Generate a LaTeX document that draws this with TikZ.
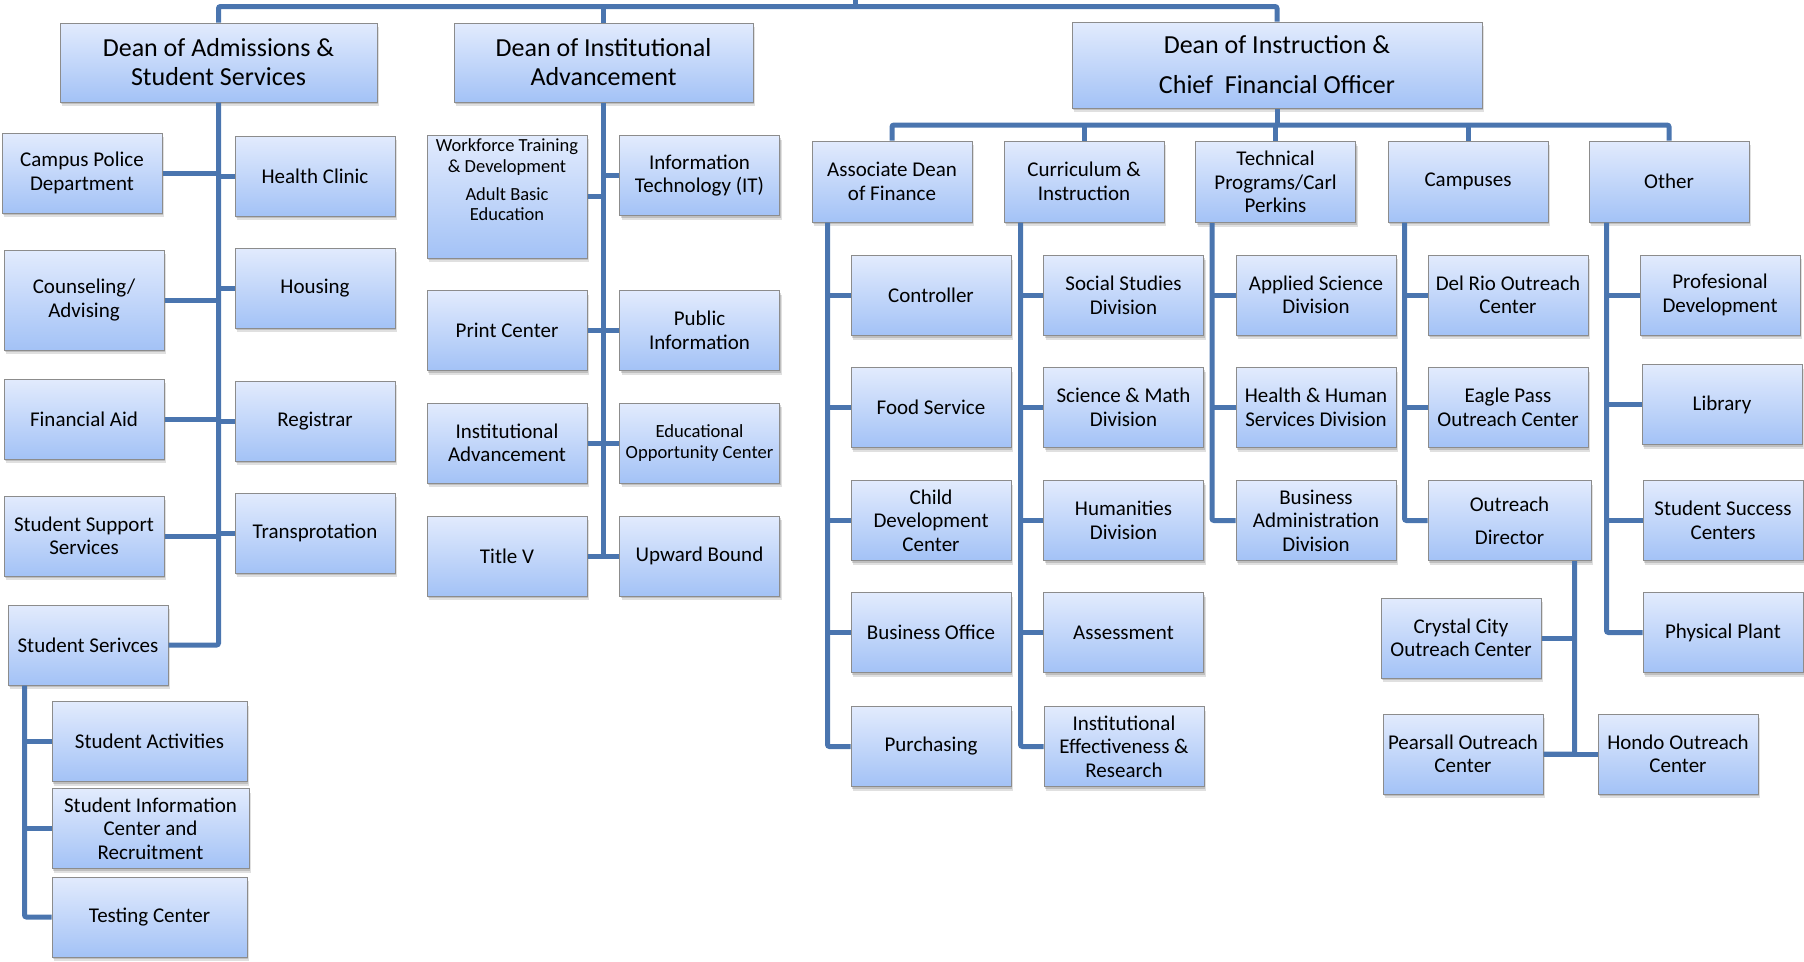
\documentclass[tikz,border=0pt]{standalone}
\usepackage{fontspec}
\setmainfont{Carlito}
\usetikzlibrary{shadows}
\definecolor{lineblue}{RGB}{74,117,175}
\definecolor{boxtop}{RGB}{226,235,253}
\definecolor{boxbot}{RGB}{163,194,246}
\definecolor{boxedge}{RGB}{140,140,140}
\begin{document}
\begin{tikzpicture}[x=1pt,y=-1pt,
  box/.style={draw=boxedge, line width=1pt, top color=boxtop, bottom color=boxbot,
    minimum width=160pt, minimum height=80pt, inner sep=0pt, align=center,
    font=\fontsize{21}{23.5}\selectfont,
    drop shadow={shadow xshift=2pt, shadow yshift=-4pt, opacity=0.12, fill=black},
    drop shadow={shadow xshift=1pt, shadow yshift=-2pt, opacity=0.15, fill=black}},
  head/.style={box, font=\fontsize{26}{29}\selectfont},
  conn/.style={draw=lineblue, line width=5pt, rounded corners=2pt}]
\useasboundingbox (0,0) rectangle (1804,961);

% ---- top level heads
\node[head, minimum width=317pt, minimum height=79pt] (adm) at (218.5,62.5) {Dean of Admissions \&\\Student Services};
\node[head, minimum width=299pt, minimum height=79pt] (iad) at (603.5,62.5) {Dean of Institutional\\Advancement};
\node[head, minimum width=410pt, minimum height=86pt, font=\fontsize{26}{40}\selectfont] (ins) at (1277,65) {Dean of Instruction \&\\Chief\ \ Financial Officer};

% ---- admissions children
\node[box] (cp) at (82,173) {Campus Police\\Department};
\node[box] (hc) at (315,176) {Health Clinic};
\node[box, minimum height=100pt] (cou) at (84,300) {Counseling/\\Advising};
\node[box] (hou) at (315,288) {Housing};
\node[box] (fa) at (84,419) {Financial Aid};
\node[box] (reg) at (315,421) {Registrar};
\node[box] (ssup) at (84,536) {Student Support\\Services};
\node[box] (tra) at (315,533) {Transprotation};
\node[box] (ss) at (88,645) {Student Serivces};
\node[box, minimum width=195pt] (sa) at (149.5,741.5) {Student Activities};
\node[box, minimum width=197pt] (sic) at (150.5,828.5) {Student Information\\Center and\\Recruitment};
\node[box, minimum width=195pt] (tc) at (149.5,917) {Testing Center};

% ---- institutional advancement children
\node[box, minimum height=123pt] (wf) at (507,196.5) {\begin{minipage}[c][115pt][t]{158pt}\centering\fontsize{18.5}{20.7}\selectfont
 \vspace{0pt}Workforce Training\\\& Development\\[7pt]Adult Basic\\Education\end{minipage}};
\node[box] (it) at (699.5,175.5) {Information\\Technology (IT)};
\node[box] (pc) at (507,330.5) {Print Center};
\node[box] (pi) at (699.5,330.5) {Public\\Information};
\node[box] (ia) at (507,443) {Institutional\\Advancement};
\node[box, font=\fontsize{18.6}{21}\selectfont] (eo) at (699.5,443) {Educational\\Opportunity Center};
\node[box] (tv) at (507,556) {Title V};
\node[box] (ub) at (699.5,556) {Upward Bound};

% ---- instruction level 2
\node[box, minimum height=81pt] (fin) at (892,181.5) {Associate Dean\\of Finance};
\node[box, minimum height=81pt] (cur) at (1084,181.5) {Curriculum \&\\Instruction};
\node[box, minimum height=81pt] (tec) at (1275.5,182) {Technical\\Programs/Carl\\Perkins};
\node[box, minimum height=81pt] (cam) at (1468,181.5) {Campuses};
\node[box, minimum height=81pt] (oth) at (1669,181.5) {Other};

% finance
\node[box] (con) at (931,295.5) {Controller};
\node[box] (food) at (931,407.5) {Food Service};
\node[box] (child) at (931,520.5) {Child\\Development\\Center};
\node[box] (bo) at (931,632.5) {Business Office};
\node[box] (pur) at (931,746.5) {Purchasing};
% curriculum
\node[box] (soc) at (1123.5,295.5) {Social Studies\\Division};
\node[box] (sm) at (1123.5,407.5) {Science \& Math\\Division};
\node[box] (hum) at (1123.5,520.5) {Humanities\\Division};
\node[box] (ass) at (1123.5,632.5) {Assessment};
\node[box] (ie) at (1124,746.5) {Institutional\\Effectiveness \&\\Research};
% technical
\node[box] (as) at (1316,295) {Applied Science\\Division};
\node[box] (hh) at (1316,407.5) {Health \& Human\\Services Division};
\node[box] (ba) at (1316,520.5) {Business\\Administration\\Division};
% campuses
\node[box] (dr) at (1508,295) {Del Rio Outreach\\Center};
\node[box] (ep) at (1508,407.5) {Eagle Pass\\Outreach Center};
\node[box, minimum width=163pt, font=\fontsize{21}{33}\selectfont] (od) at (1509.5,520.5) {Outreach\\Director};
\node[box] (cc) at (1461,638) {Crystal City\\Outreach Center};
\node[box] (pe) at (1463,754) {Pearsall Outreach\\Center};
\node[box] (ho) at (1678,754) {Hondo Outreach\\Center};
% other
\node[box] (pd) at (1720,295) {Profesional\\Development};
\node[box] (lib) at (1722,404.5) {Library};
\node[box] (ssc) at (1723,520.5) {Student Success\\Centers};
\node[box] (pp) at (1723,632.5) {Physical Plant};

% ---- connectors
\coordinate (pres) at (855,0);
\coordinate (topbus) at (855,6.5);
\draw[conn] (adm.north) |- (topbus) -| (ins.north);
\draw[conn] (iad.north) -- (iad.north |- topbus);
\draw[conn] (topbus) -- (pres);

% admissions
\draw[conn] (adm.south) |- (ss.east);
\foreach \n in {cp,cou,fa,ssup} \draw[conn] (\n.east) -- (\n.east -| adm.south);
\foreach \n in {hc,hou,reg,tra} \draw[conn] (\n.west) -- (\n.west -| adm.south);
\coordinate (ssv) at ([xshift=17pt]ss.south west);
\draw[conn] (ssv) |- (tc.west);
\foreach \n in {sa,sic} \draw[conn] (\n.west) -- (\n.west -| ssv);

% institutional advancement
\draw[conn] (iad.south) -- (iad.south |- tv.east);
\foreach \n in {wf,pc,ia,tv} \draw[conn] (\n.east) -- (\n.east -| iad.south);
\foreach \n in {it,pi,eo,ub} \draw[conn] (\n.west) -- (\n.west -| iad.south);

% instruction bus
\coordinate (ibus) at (1277,125);
\draw[conn] (ins.south) -- (ibus);
\draw[conn] (fin.north) |- (ibus) -| (oth.north);
\foreach \n in {cur,tec,cam} \draw[conn] (\n.north) -- (\n.north |- ibus);

\coordinate (finv) at ([xshift=16pt]fin.south west);
\draw[conn] (finv) |- (pur.west);
\foreach \n in {con,food,child,bo} \draw[conn] (\n.west) -- (\n.west -| finv);

\coordinate (curv) at ([xshift=17pt]cur.south west);
\draw[conn] (curv) |- (ie.west);
\foreach \n in {soc,sm,hum,ass} \draw[conn] (\n.west) -- (\n.west -| curv);

\coordinate (tecv) at ([xshift=17pt]tec.south west);
\draw[conn] (tecv) |- (ba.west);
\foreach \n in {as,hh} \draw[conn] (\n.west) -- (\n.west -| tecv);

\coordinate (camv) at ([xshift=17pt]cam.south west);
\draw[conn] (camv) |- (od.west);
\foreach \n in {dr,ep} \draw[conn] (\n.west) -- (\n.west -| camv);

\coordinate (odv) at ([xshift=-17pt]od.south east);
\draw[conn] (odv) |- (pe.east);
\draw[conn] (pe.east) -- (ho.west);
\draw[conn] (cc.east) -- (cc.east -| odv);

\coordinate (othv) at ([xshift=18pt]oth.south west);
\draw[conn] (othv) |- (pp.west);
\foreach \n in {pd,lib,ssc} \draw[conn] (\n.west) -- (\n.west -| othv);
\end{tikzpicture}
\end{document}
